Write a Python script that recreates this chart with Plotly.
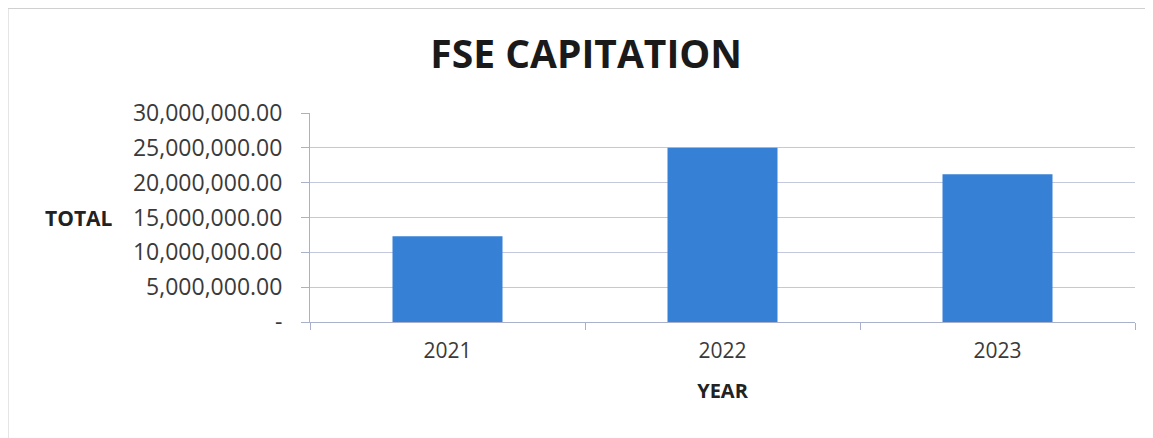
import plotly.graph_objects as go

years = ["2021", "2022", "2023"]
totals = [12300000, 25000000, 21200000]
y_tickvals = [0, 5000000, 10000000, 15000000, 20000000, 25000000, 30000000]
y_ticktext = ["-", "5,000,000.00", "10,000,000.00", "15,000,000.00",
              "20,000,000.00", "25,000,000.00", "30,000,000.00"]

FONT = "Open Sans"
fig = go.Figure(go.Bar(x=years, y=totals, marker=dict(color="#3680d6", line=dict(width=0))))

fig.update_layout(
    width=1145, height=430,
    margin=dict(l=302, r=18, t=105, b=116),
    paper_bgcolor="white", plot_bgcolor="white",
    bargap=0.6,
    showlegend=False,
    title=dict(text="<b>FSE CAPITATION</b>", x=0.505, xanchor="center", y=0.893, yanchor="middle",
               font=dict(family=FONT, size=39, color="#1a1a1a")),
    font=dict(family=FONT, color="#333333"),
)
fig.update_yaxes(range=[0, 30000000], tickvals=y_tickvals, ticktext=y_ticktext,
                 tickfont=dict(size=23, color="#3a3a3a"), ticklabelstandoff=14,
                 showgrid=True, gridcolor="#c3c8dc", gridwidth=1,
                 showline=True, linecolor="#a8b0cc", linewidth=1,
                 ticks="outside", ticklen=8, tickcolor="#a8b0cc", zeroline=False)
fig.update_xaxes(tickfont=dict(size=21, color="#3a3a3a"), ticklabelstandoff=10,
                 showline=True, linecolor="#a8b0cc", linewidth=1,
                 ticks="outside", tickson="boundaries", ticklen=7, tickcolor="#a8b0cc",
                 title=dict(text="<b>YEAR</b>", font=dict(size=20, color="#222222"), standoff=20))
fig.add_annotation(text="<b>TOTAL</b>", xref="paper", yref="paper", x=-0.236, y=0.5,
                   xanchor="right", yanchor="middle", showarrow=False,
                   font=dict(family=FONT, size=21, color="#222222"))
fig.add_shape(type="rect", xref="paper", yref="paper", x0=-0.366, y0=-0.6, x1=1.05, y1=1.5,
              line=dict(color="#d0d0d0", width=1), fillcolor="rgba(0,0,0,0)", layer="below")

fig.write_html("out.html")
